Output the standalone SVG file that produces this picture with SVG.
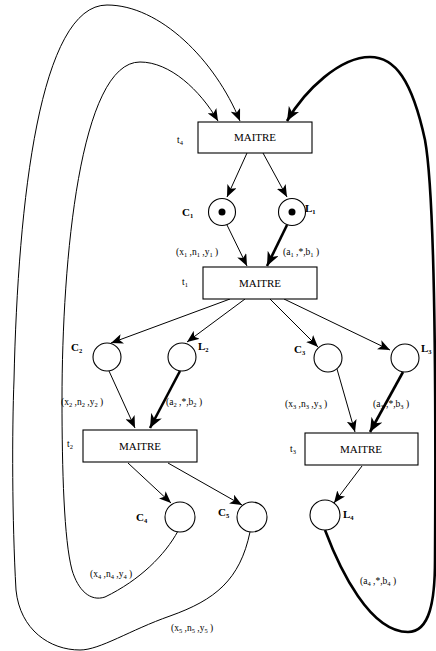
<svg xmlns="http://www.w3.org/2000/svg" width="436" height="651" viewBox="0 0 436 651">
<style>
.tr{fill:#fff;stroke:#000;stroke-width:1.1}
.pl{fill:#fff;stroke:#000;stroke-width:1.1}
.tok{fill:#000}
.tt{font-family:"Liberation Serif",serif;font-size:11px;fill:#000;text-anchor:middle}
.nm{font-family:"Liberation Serif",serif;font-size:11px;font-weight:bold;fill:#000}
.lb{font-family:"Liberation Serif",serif;font-size:9.5px;fill:#000}
.sb{font-size:6.5px}
.a{fill:none;stroke:#000;stroke-width:1}
.k{fill:none;stroke:#000;stroke-width:2.6}
</style>
<defs>
<marker id="ah" markerUnits="userSpaceOnUse" markerWidth="14" markerHeight="10" refX="12" refY="5" orient="auto">
<path d="M0,0 L12,5 L0,10 L3,5 z" fill="#000"/>
</marker>
<marker id="ahk" markerUnits="userSpaceOnUse" markerWidth="16" markerHeight="12" refX="14" refY="6" orient="auto">
<path d="M0,0 L14,6 L0,12 L4,6 z" fill="#000"/>
</marker>
</defs>
<g id="connectors">
<path class="a" d="M247,153 L227,197" marker-end="url(#ah)"/>
<path class="a" d="M263,153 L287,197" marker-end="url(#ah)"/>
<path class="a" d="M227,225 L247,266" marker-end="url(#ah)"/>
<path class="k" d="M287,225 L267,266" marker-end="url(#ahk)"/>
<path class="a" d="M230,299 L111,343" marker-end="url(#ah)"/>
<path class="a" d="M245,299 L187,342" marker-end="url(#ah)"/>
<path class="a" d="M270,299 L318,347" marker-end="url(#ah)"/>
<path class="a" d="M284,299 L390,350" marker-end="url(#ah)"/>
<path class="a" d="M109,371 L135,428" marker-end="url(#ah)"/>
<path class="k" d="M180,371 L150,428" marker-end="url(#ahk)"/>
<path class="a" d="M337,369 L355,432" marker-end="url(#ah)"/>
<path class="k" d="M403,372 L370,432" marker-end="url(#ahk)"/>
<path class="a" d="M128,463 L171,503" marker-end="url(#ah)"/>
<path class="a" d="M168,463 L242,505" marker-end="url(#ah)"/>
<path class="a" d="M362,466 L334,503" marker-end="url(#ah)"/>
<path class="a" d="M178,531 C165,555 140,580 105,597 C90,602 78,590 72,570 C64,540 62,470 62,400 C62,260 80,62 140,62 C170,62 200,90 218,121" marker-end="url(#ah)"/>
<path class="a" d="M250,532 C240,580 215,600 170,616 C130,630 100,650 80,650 C50,650 20,630 16,590 C12,520 12,430 14,380 C18,200 40,5 107,5 C160,5 215,60 240,121" marker-end="url(#ah)"/>
<path class="k" d="M325,530 C340,570 370,632 408,632 C430,632 435,600 435,560 C436,400 436,200 425,140 C412,80 395,57 370,57 C340,57 305,90 287,121" marker-end="url(#ahk)"/>
</g>
<g id="t4">
<rect class="tr" x="198" y="122" width="114" height="31"/>
<text class="tt" x="255" y="141">MAITRE</text>
<text class="lb" x="177" y="143">t<tspan class="sb" dy="2">4</tspan></text>
</g>
<g id="C1">
<circle class="pl" cx="222" cy="212" r="13.5"/>
<circle class="tok" cx="222" cy="212" r="3.5"/>
<text class="nm" x="182" y="216">C<tspan class="sb" dy="2">1</tspan></text>
</g>
<g id="L1">
<circle class="pl" cx="292" cy="212" r="13.5"/>
<circle class="tok" cx="292" cy="212" r="3.5"/>
<text class="nm" x="305" y="212">L<tspan class="sb" dy="2">1</tspan></text>
</g>
<g id="t1">
<rect class="tr" x="203" y="267" width="114" height="32"/>
<text class="tt" x="260" y="287">MAITRE</text>
<text class="lb" x="182" y="285">t<tspan class="sb" dy="2">1</tspan></text>
</g>
<g id="C2">
<circle class="pl" cx="107" cy="357" r="14"/>
<text class="nm" x="71" y="351">C<tspan class="sb" dy="2">2</tspan></text>
</g>
<g id="L2">
<circle class="pl" cx="182" cy="357" r="14"/>
<text class="nm" x="198" y="350">L<tspan class="sb" dy="2">2</tspan></text>
</g>
<g id="C3">
<circle class="pl" cx="328" cy="358" r="14"/>
<text class="nm" x="294" y="353">C<tspan class="sb" dy="2">3</tspan></text>
</g>
<g id="L3">
<circle class="pl" cx="405" cy="358" r="14"/>
<text class="nm" x="421" y="352">L<tspan class="sb" dy="2">3</tspan></text>
</g>
<g id="t2">
<rect class="tr" x="83" y="430" width="114" height="32"/>
<text class="tt" x="140" y="450">MAITRE</text>
<text class="lb" x="67" y="447">t<tspan class="sb" dy="2">2</tspan></text>
</g>
<g id="t3">
<rect class="tr" x="305" y="433" width="113" height="32"/>
<text class="tt" x="361" y="453">MAITRE</text>
<text class="lb" x="290" y="452">t<tspan class="sb" dy="2">3</tspan></text>
</g>
<g id="C4">
<circle class="pl" cx="180" cy="517" r="15"/>
<text class="nm" x="136" y="521">C<tspan class="sb" dy="2">4</tspan></text>
</g>
<g id="C5">
<circle class="pl" cx="252" cy="517" r="15"/>
<text class="nm" x="218" y="516">C<tspan class="sb" dy="2">5</tspan></text>
</g>
<g id="L4">
<circle class="pl" cx="325" cy="515" r="15"/>
<text class="nm" x="343" y="518">L<tspan class="sb" dy="2">4</tspan></text>
</g>
<g id="labels">
<text class="lb" x="176" y="255">(x<tspan class="sb" dy="2">1</tspan><tspan dy="-2"> ,n</tspan><tspan class="sb" dy="2">1</tspan><tspan dy="-2"> ,y</tspan><tspan class="sb" dy="2">1</tspan><tspan dy="-2"> )</tspan></text>
<text class="lb" x="283" y="255">(a<tspan class="sb" dy="2">1</tspan><tspan dy="-2"> ,*,b</tspan><tspan class="sb" dy="2">1</tspan><tspan dy="-2"> )</tspan></text>
<text class="lb" x="61" y="405">(x<tspan class="sb" dy="2">2</tspan><tspan dy="-2"> ,n</tspan><tspan class="sb" dy="2">2</tspan><tspan dy="-2"> ,y</tspan><tspan class="sb" dy="2">2</tspan><tspan dy="-2"> )</tspan></text>
<text class="lb" x="166" y="405">(a<tspan class="sb" dy="2">2</tspan><tspan dy="-2"> ,*,b</tspan><tspan class="sb" dy="2">2</tspan><tspan dy="-2"> )</tspan></text>
<text class="lb" x="285" y="407">(x<tspan class="sb" dy="2">3</tspan><tspan dy="-2"> ,n</tspan><tspan class="sb" dy="2">3</tspan><tspan dy="-2"> ,y</tspan><tspan class="sb" dy="2">3</tspan><tspan dy="-2"> )</tspan></text>
<text class="lb" x="373" y="407">(a<tspan class="sb" dy="2">3</tspan><tspan dy="-2"> ,*,b</tspan><tspan class="sb" dy="2">3</tspan><tspan dy="-2"> )</tspan></text>
<text class="lb" x="90" y="577">(x<tspan class="sb" dy="2">4</tspan><tspan dy="-2"> ,n</tspan><tspan class="sb" dy="2">4</tspan><tspan dy="-2"> ,y</tspan><tspan class="sb" dy="2">4</tspan><tspan dy="-2"> )</tspan></text>
<text class="lb" x="171" y="631">(x<tspan class="sb" dy="2">5</tspan><tspan dy="-2"> ,n</tspan><tspan class="sb" dy="2">5</tspan><tspan dy="-2"> ,y</tspan><tspan class="sb" dy="2">5</tspan><tspan dy="-2"> )</tspan></text>
<text class="lb" x="360" y="584">(a<tspan class="sb" dy="2">4</tspan><tspan dy="-2"> ,*,b</tspan><tspan class="sb" dy="2">4</tspan><tspan dy="-2"> )</tspan></text>
</g>
</svg>
